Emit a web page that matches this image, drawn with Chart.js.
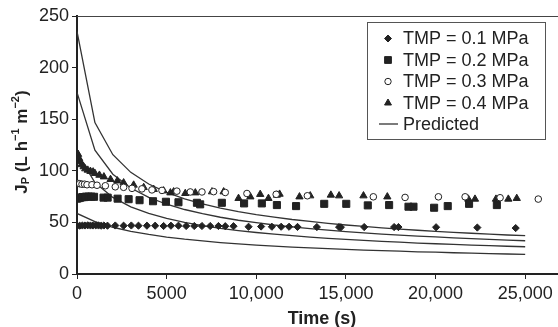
<!DOCTYPE html>
<html>
<head>
<meta charset="utf-8">
<script src="https://cdn.jsdelivr.net/npm/chart.js@4/dist/chart.umd.min.js"></script>
<style>
  html, body { margin: 0; padding: 0; background: #fff; overflow: hidden; }
  #wrap { width: 600px; height: 327px; }
</style>
</head>
<body>
<div id="wrap"><canvas id="chart" width="600" height="327"></canvas></div>
<script>
// Measured data (time in s, flux in L h-1 m-2)
const tmp01Time = [0, 150, 300, 450, 600, 750, 900, 1050, 1200, 1350, 1500, 1700, 2135, 2600, 3030, 3430, 3900, 4360, 4830, 5240, 5660, 6090, 6540, 6970, 7430, 7890, 8270, 8730, 9570, 10270, 10870, 11390, 11830, 12300, 13380, 14620, 14720, 16020, 17690, 17930, 20030, 22330, 24470];
const tmp01Flux = [46.5, 46.8, 47, 47, 47.2, 47, 47, 47.2, 47, 46.8, 47, 46.8, 47, 46.8, 47, 46.8, 46.8, 46.8, 46.5, 46.8, 46.8, 46.5, 46.5, 46.5, 46.5, 46.5, 46.3, 46.3, 45.8, 46, 45.8, 45.8, 45.8, 45.6, 45.5, 45.5, 45.3, 45.5, 45.5, 45.5, 45.3, 45, 44.5];

const tmp02Time = [0, 100, 200, 300, 400, 500, 650, 800, 950, 1480, 1710, 2265, 2880, 3490, 4240, 4960, 5660, 6690, 6870, 8080, 9320, 10310, 11150, 12220, 13790, 15020, 16220, 17410, 18490, 18770, 19920, 20680, 21870, 23420];
const tmp02Flux = [73, 73.5, 74, 74.5, 74.5, 75, 75, 75, 74.8, 74, 74, 73, 72.5, 71.5, 70.5, 70, 69.5, 69, 67.5, 69, 68.4, 68.4, 66.8, 65.8, 68, 68, 66.5, 66.8, 65.2, 65.2, 64.2, 65.8, 68, 66.8];

const tmp03Time = [0, 150, 280, 420, 560, 835, 1115, 1580, 2135, 2600, 3070, 3620, 4180, 4740, 5570, 6320, 6970, 7620, 8270, 9480, 11110, 12850, 16530, 18300, 20160, 21650, 23600, 25730];
const tmp03Flux = [88, 87.5, 87, 87, 86.5, 86.5, 86, 85.5, 84.5, 84, 83, 82.5, 81.5, 81, 80.3, 79.5, 79.5, 79.8, 79, 78, 77.2, 75.8, 74.8, 74.2, 74.8, 74.8, 73.9, 72.6];

const tmp04Time = [0, 60, 120, 185, 250, 370, 460, 600, 750, 900, 1000, 1250, 1500, 1870, 2250, 2600, 3160, 3720, 4280, 4830, 5210, 5390, 6040, 6600, 7530, 8180, 9010, 9670, 10220, 10680, 11150, 11300, 12410, 13010, 14160, 14620, 15980, 17310, 21830, 22200, 23370, 24060, 24530];
const tmp04Flux = [117, 116, 112, 109, 106, 104, 102, 100.7, 99.5, 99, 97.5, 95.8, 94.2, 91.7, 90.3, 88.4, 86.2, 83.9, 82, 80.6, 78.7, 79.7, 78.1, 78.7, 79.7, 79.7, 73.3, 74.8, 77.2, 73.3, 76.5, 77.4, 74.8, 75.8, 76.5, 75.8, 75.8, 74.8, 72.6, 72.6, 72.6, 72.6, 73.3];

// Predicted curves, read every 1000 s
const predTime = [0, 1000, 2000, 3000, 4000, 5000, 6000, 7000, 8000, 9000, 10000, 11000, 12000, 13000, 14000, 15000, 16000, 17000, 18000, 19000, 20000, 21000, 22000, 23000, 24000, 25000];
const pred04 = [235, 146.7, 115.6, 98.5, 87.2, 79.1, 72.9, 68.0, 63.9, 60.5, 57.6, 55.1, 52.8, 50.9, 49.1, 47.5, 46.1, 44.7, 43.5, 42.4, 41.3, 40.4, 39.5, 38.6, 37.8, 37.1];
const pred03 = [176, 119.9, 96.7, 83.3, 74.2, 67.6, 62.5, 58.4, 55.0, 52.1, 49.7, 47.5, 45.7, 44.0, 42.5, 41.1, 39.9, 38.7, 37.7, 36.7, 35.9, 35.0, 34.2, 33.5, 32.8, 32.2];
const pred02 = [117.4, 88.7, 74.2, 65.1, 58.7, 53.8, 50.0, 46.9, 44.3, 42.1, 40.2, 38.6, 37.1, 35.8, 34.6, 33.5, 32.5, 31.6, 30.8, 30.0, 29.3, 28.7, 28.0, 27.5, 26.9, 26.4];
const pred01 = [58.7, 50.7, 45.3, 41.4, 38.3, 35.8, 33.7, 32.0, 30.5, 29.2, 28.0, 27.0, 26.1, 25.3, 24.5, 23.8, 23.2, 22.6, 22.1, 21.5, 21.1, 20.6, 20.2, 19.8, 19.4, 19.1];

const yTicks = [0, 50, 100, 150, 200, 250];
const xTicks = [0, 5000, 10000, 15000, 20000, 25000];
const legendLabels = ['TMP = 0.1 MPa', 'TMP = 0.2 MPa', 'TMP = 0.3 MPa', 'TMP = 0.4 MPa', 'Predicted'];

const INK = '#222';
const FONT = '"Liberation Sans", Arial, sans-serif';

function pts(xs, ys) {
    return xs.map((x, i) => ({ x: x, y: ys[i] }));
}

function scatterSet(label, xs, ys, style, radius, fill) {
    return {
        label: label,
        data: pts(xs, ys),
        showLine: false,
        pointStyle: style,
        pointRadius: radius,
        pointBackgroundColor: fill,
        pointBorderColor: INK,
        pointBorderWidth: 1
    };
}

function lineSet(ys) {
    return {
        label: 'Predicted',
        data: pts(predTime, ys),
        showLine: true,
        borderColor: '#333',
        borderWidth: 1.3,
        pointRadius: 0,
        fill: false,
        tension: 0
    };
}

// Frame, axis titles and boxed legend
const decorPlugin = {
    id: 'decor',
    afterDraw(chart) {
        const ctx = chart.ctx;
        const area = chart.chartArea;
        ctx.save();

        // thin top / right frame
        ctx.strokeStyle = '#444';
        ctx.lineWidth = 1;
        ctx.beginPath();
        ctx.moveTo(area.left, area.top + 0.5);
        ctx.lineTo(area.right, area.top + 0.5);
        ctx.lineTo(area.right, area.bottom);
        ctx.stroke();

        // x title
        ctx.fillStyle = INK;
        ctx.font = 'bold 18px ' + FONT;
        ctx.textAlign = 'center';
        ctx.textBaseline = 'middle';
        ctx.fillText('Time (s)', 322, 319);

        // y title, rotated, with sub/superscripts
        const big = 'bold 17px ' + FONT, small = 'bold 11px ' + FONT;
        const parts = [
            { t: 'J', f: big, dy: 0 },
            { t: 'P', f: small, dy: 4 },
            { t: ' (L h', f: big, dy: 0 },
            { t: '\u22121', f: small, dy: -6 },
            { t: ' m', f: big, dy: 0 },
            { t: '\u22122', f: small, dy: -6 },
            { t: ')', f: big, dy: 0 }
        ];
        let total = 0;
        parts.forEach(p => { ctx.font = p.f; p.w = ctx.measureText(p.t).width; total += p.w; });
        ctx.translate(22, 142);
        ctx.rotate(-Math.PI / 2);
        ctx.textAlign = 'left';
        ctx.textBaseline = 'middle';
        let px = -total / 2;
        parts.forEach(p => {
            ctx.font = p.f;
            ctx.fillText(p.t, px, p.dy);
            px += p.w;
        });
        ctx.setTransform(1, 0, 0, 1, 0, 0);

        // legend box
        const bx = 367, by = 22, bw = 178, bh = 117;
        ctx.fillStyle = '#fff';
        ctx.fillRect(bx, by, bw, bh);
        ctx.strokeStyle = '#555';
        ctx.lineWidth = 1;
        ctx.strokeRect(bx + 0.5, by + 0.5, bw, bh);

        const rowY = [38.5, 60, 81.5, 103, 124];
        const markers = [
            { style: 'rectRot', r: 3.5, fill: INK },
            { style: 'rect', r: 4.8, fill: INK },
            { style: 'circle', r: 3.2, fill: '#fff' },
            { style: 'triangle', r: 4, fill: INK }
        ];
        ctx.font = '18px ' + FONT;
        legendLabels.forEach((lab, i) => {
            const y = rowY[i];
            if (i < 4) {
                const m = markers[i];
                ctx.fillStyle = m.fill;
                ctx.strokeStyle = INK;
                ctx.lineWidth = 1;
                Chart.helpers.drawPoint(ctx, { pointStyle: m.style, radius: m.r, rotation: 0, borderWidth: 1 }, 388, y);
            } else {
                ctx.strokeStyle = '#333';
                ctx.lineWidth = 1.3;
                ctx.beginPath();
                ctx.moveTo(379, y);
                ctx.lineTo(398, y);
                ctx.stroke();
            }
            ctx.fillStyle = INK;
            ctx.textAlign = 'left';
            ctx.textBaseline = 'middle';
            ctx.fillText(lab, 403, y + 1);
        });
        ctx.restore();
    }
};

new Chart(document.getElementById('chart'), {
    type: 'scatter',
    data: {
        datasets: [
            scatterSet('TMP = 0.1 MPa', tmp01Time, tmp01Flux, 'rectRot', 3.6, INK),
            scatterSet('TMP = 0.2 MPa', tmp02Time, tmp02Flux, 'rect', 5.0, INK),
            scatterSet('TMP = 0.3 MPa', tmp03Time, tmp03Flux, 'circle', 3.3, '#fff'),
            scatterSet('TMP = 0.4 MPa', tmp04Time, tmp04Flux, 'triangle', 4.2, INK),
            lineSet(pred04),
            lineSet(pred03),
            lineSet(pred02),
            lineSet(pred01)
        ]
    },
    options: {
        responsive: false,
        animation: false,
        layout: { padding: { top: 16, right: 30, left: 0, bottom: 0 } },
        plugins: {
            legend: { display: false },
            tooltip: { enabled: false }
        },
        scales: {
            x: {
                type: 'linear',
                min: 0,
                max: 27500,
                afterFit: (s) => { s.height = 53; },
                afterBuildTicks: (s) => { s.ticks = xTicks.map(v => ({ value: v })); },
                grid: { display: true, drawOnChartArea: false, drawTicks: true, tickLength: 5, color: INK, lineWidth: 1 },
                border: { display: true, color: INK, width: 2 },
                ticks: {
                    color: INK,
                    padding: 4,
                    maxRotation: 0,
                    font: { family: FONT, size: 18 },
                    callback: (v) => v >= 10000 ? v.toLocaleString('en-US') : String(v)
                }
            },
            y: {
                min: 0,
                max: 250,
                afterFit: (s) => { s.width = 77; },
                afterBuildTicks: (s) => { s.ticks = yTicks.map(v => ({ value: v })); },
                grid: { display: true, drawOnChartArea: false, drawTicks: true, tickLength: 5, color: INK, lineWidth: 1 },
                border: { display: true, color: INK, width: 2 },
                ticks: {
                    color: INK,
                    padding: 3,
                    font: { family: FONT, size: 18 }
                }
            }
        }
    },
    plugins: [decorPlugin]
});
</script>
</body>
</html>
